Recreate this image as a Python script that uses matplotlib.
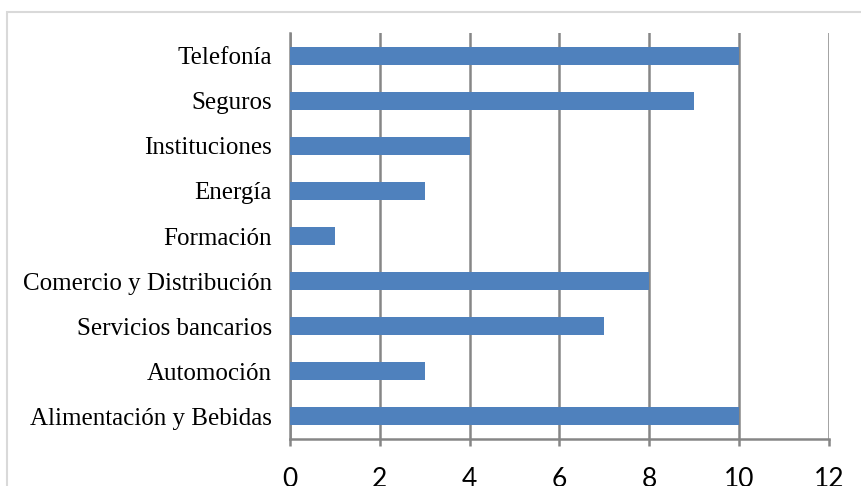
import matplotlib
matplotlib.use("Agg")
import matplotlib.pyplot as plt
from matplotlib.patches import Rectangle

categories = ["Telefonía", "Seguros", "Instituciones", "Energía", "Formación",
              "Comercio y Distribución", "Servicios bancarios", "Automoción",
              "Alimentación y Bebidas"]
values = [10, 9, 4, 3, 1, 8, 7, 3, 10]
xticks = [0, 2, 4, 6, 8, 10, 12]

W, H = 862, 486
fig = plt.figure(figsize=(W/100, H/100), dpi=100)
ax = fig.add_axes([290/W, (H-439)/H, (829-290)/W, (439-33)/H])

pos = list(range(len(categories)))
ax.barh(pos, values, height=0.4, color="#4F81BD", zorder=3)
ax.set_ylim(len(categories)-0.5, -0.5)
ax.set_xlim(0, 12)
ax.set_xticks(xticks)
ax.set_xticklabels([str(t) for t in xticks], fontfamily="Lato", fontsize=19)
ax.set_yticks(pos)
ax.set_yticklabels(categories, fontfamily="Liberation Serif", fontsize=18)
ax.grid(axis="x", color="#868686", linewidth=1.8, zorder=1)
ax.tick_params(axis="y", length=0, pad=13)
ax.tick_params(axis="x", length=5, width=1.8, color="#868686", pad=15)
for s in ["top", "right"]:
    ax.spines[s].set_visible(False)
for s in ["left", "bottom"]:
    ax.spines[s].set_color("#868686")
    ax.spines[s].set_linewidth(1.8)

fig.patches.append(Rectangle((7/W, -0.2), 1.2, (H-12)/H + 0.2, transform=fig.transFigure,
                             fill=False, edgecolor="#d9d9d9", linewidth=1.5))
fig.savefig("out.png", dpi=100)
